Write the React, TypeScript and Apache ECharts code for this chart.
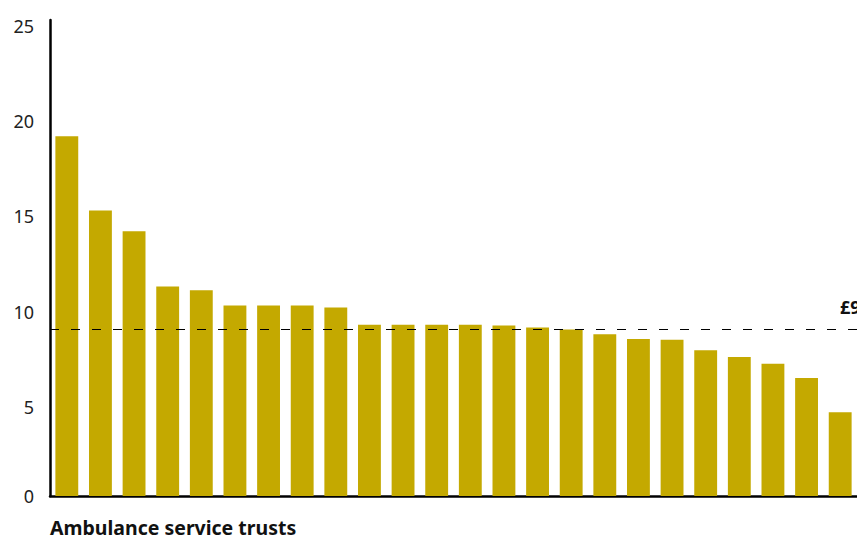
import React, { useEffect, useRef } from "react";
import * as echarts from "echarts";

const categories: string[] = Array.from({ length: 24 }, (_, i) => `Trust ${i + 1}`);
const values: number[] = [
  18.9, 15.0, 13.9, 11.0, 10.8, 10.0, 10.0, 10.0, 9.9, 9.0, 9.0, 9.0,
  9.0, 8.95, 8.85, 8.75, 8.5, 8.25, 8.2, 7.65, 7.3, 6.95, 6.2, 4.4,
];
const averageValue = 8.75;
const averageLabel = "£9m";
const xAxisTitle = "Ambulance service trusts";
const yTicks = [0, 5, 10, 15, 20, 25];

export default function App() {
  const ref = useRef<HTMLDivElement>(null);
  useEffect(() => {
    if (!ref.current) return;
    const chart = echarts.init(ref.current, null, { renderer: "svg" });
    const font = "'Noto Sans', 'Open Sans', sans-serif";
    chart.setOption({
      animation: false,
      grid: { left: 50, top: 20, width: 810, bottom: 44, containLabel: false },
      xAxis: {
        type: "category",
        data: categories,
        axisLine: { show: true, lineStyle: { color: "#000", width: 2.5 } },
        axisTick: { show: false },
        axisLabel: { show: false },
        name: xAxisTitle,
        nameLocation: "start",
        nameGap: 0,
        nameTextStyle: {
          fontFamily: font,
          fontWeight: "bold",
          fontSize: 19.5,
          lineHeight: 20,
          color: "#111",
          align: "left",
          verticalAlign: "top",
          padding: [21, 0, 0, 0],
        },
      },
      yAxis: {
        type: "value",
        min: yTicks[0],
        max: yTicks[yTicks.length - 1],
        interval: 5,
        axisLine: { show: true, lineStyle: { color: "#000", width: 2.5 } },
        axisTick: { show: false },
        splitLine: { show: false },
        axisLabel: {
          margin: 16,
          fontFamily: font,
          fontSize: 18,
          color: "#222",
          formatter: (v: number) => (v === 0 ? `{z|${v}}` : `{n|${v}}`),
          rich: {
            n: { fontFamily: font, fontSize: 18, color: "#222", padding: [12, 0, 0, 0] },
            z: { fontFamily: font, fontSize: 18, color: "#222" },
          },
        },
      },
      series: [
        {
          type: "bar",
          data: values,
          barCategoryGap: "32%",
          itemStyle: { color: "#C4A900" },
          markLine: {
            symbol: "none",
            silent: true,
            lineStyle: { color: "#000", type: [9, 12], width: 1 },
            label: { show: false },
            data: [{ yAxis: averageValue }],
          },
        },
      ],
      graphic: [
        {
          type: "text",
          left: 840,
          top: 298,
          style: {
            text: averageLabel,
            fontFamily: font,
            fontWeight: "bold",
            fontSize: 18,
            fill: "#111",
          },
        },
      ],
    });
    return () => chart.dispose();
  }, []);
  return (
    <div
      ref={ref}
      style={{ position: "fixed", left: 0, top: 0, width: 857, height: 540, background: "#fff" }}
    />
  );
}
